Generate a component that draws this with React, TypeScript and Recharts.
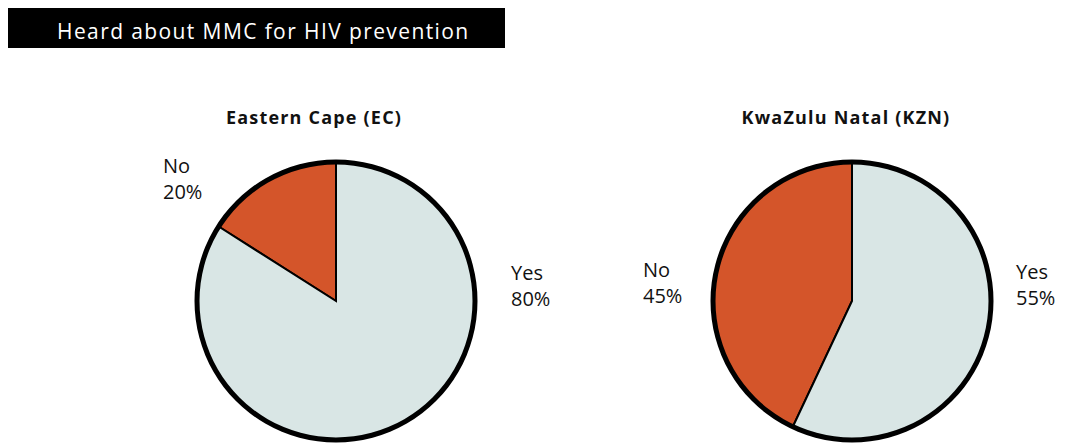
import React from "react";
import { PieChart, Pie, Cell } from "recharts";

// answers, in drawing order (No first, counter-clockwise from 12 o'clock)
const answers = ["No", "Yes"];
// slice sizes as drawn in the reference
const ecShares = [16, 84];
const kznShares = [43, 57];
// printed percentages
const ecLabels = ["20%", "80%"];
const kznLabels = ["45%", "55%"];
const regions = ["Eastern Cape (EC)", "KwaZulu Natal (KZN)"];

const COLORS = ["#D4552A", "#D9E6E5"];
const FONT = "'Open Sans', Lato, sans-serif";
const W = 1057;
const H = 435;
const R = 139;
const M = 5; // PieChart default margin
const CY = 293;
const centers = [328, 844];

// where each answer label sits relative to its pie centre: [dx, dy] (baseline of first line)
const labelSpots = [
  [[-173, -128], [175, -21]],
  [[-209, -24], [164, -22]],
];

const build = (shares: number[], labels: string[]) =>
  answers.map((a, i) => ({ name: a, value: shares[i], pct: labels[i] }));

const ecData = build(ecShares, ecLabels);
const kznData = build(kznShares, kznLabels);

export default function App() {
  const pies = [ecData, kznData];
  return (
    <div style={{ position: "relative", width: W, height: H, fontFamily: FONT }}>
      {/* chart fills the window edge to edge; keep the page from scrolling */}
      <style>{"html{overflow:hidden}"}</style>
      <div
        style={{
          position: "absolute",
          left: 0,
          top: 0,
          width: 497,
          height: 40,
          overflow: "hidden",
          background: "#000",
          color: "#fff",
          fontSize: 21,
          letterSpacing: 1.4,
          lineHeight: "46px",
          paddingLeft: 49,
          boxSizing: "border-box",
          whiteSpace: "nowrap",
        }}
      >
        Heard about MMC for HIV prevention
      </div>
      {regions.map((r, i) => (
        <div
          key={r}
          style={{
            position: "absolute",
            left: centers[i] - (i === 0 ? 22 : 6) - 150,
            top: 97,
            width: 300,
            textAlign: "center",
            fontWeight: 700,
            fontSize: 18,
            letterSpacing: 1.2,
            color: "#111",
          }}
        >
          {r}
        </div>
      ))}
      <div style={{ position: "absolute", left: 0, top: 0 }}>
        <PieChart width={W} height={H}>
          {pies.map((data, p) => (
            <Pie
              key={"p" + p}
              data={data}
              dataKey="value"
              nameKey="name"
              cx={centers[p] - M}
              cy={CY - M}
              outerRadius={R}
              startAngle={90}
              endAngle={450}
              stroke="#000"
              strokeWidth={2}
              isAnimationActive={false}
            >
              {data.map((d, i) => (
                <Cell key={d.name} fill={COLORS[i]} />
              ))}
            </Pie>
          ))}
          {pies.map((data, p) => (
            <Pie
              key={"o" + p}
              data={[{ name: "all", value: 1 }]}
              dataKey="value"
              cx={centers[p] - M}
              cy={CY - M}
              innerRadius={R - 2.5}
              outerRadius={R + 2.5}
              startAngle={90}
              endAngle={450}
              fill="#000"
              stroke="none"
              isAnimationActive={false}
            />
          ))}
        </PieChart>
      </div>
      {pies.map((data, p) =>
        data.map((d, i) => (
          <div
            key={"l" + p + i}
            style={{
              position: "absolute",
              left: centers[p] + labelSpots[p][i][0],
              top: CY + labelSpots[p][i][1] - 20,
              fontSize: 20,
              lineHeight: "26px",
              color: "#111",
              whiteSpace: "nowrap",
            }}
          >
            {d.name}
            <br />
            {d.pct}
          </div>
        ))
      )}
    </div>
  );
}
